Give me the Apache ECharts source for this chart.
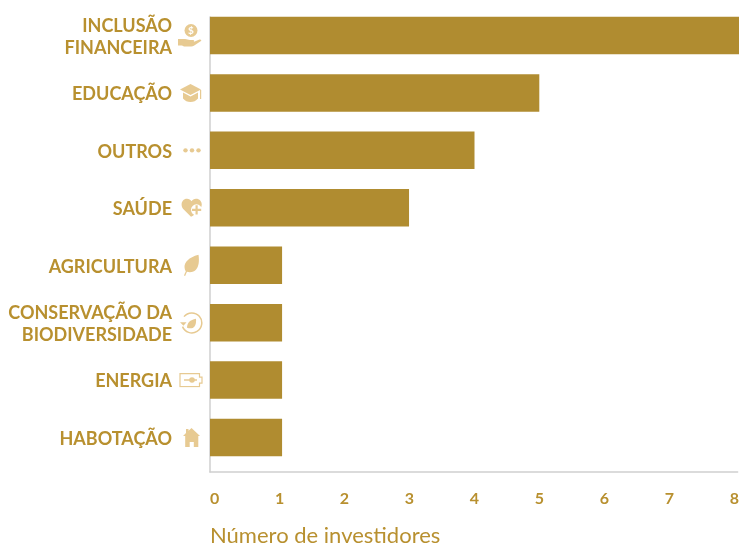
<!DOCTYPE html>
<html>
<head>
<meta charset="utf-8">
<style>html,body{margin:0;padding:0;background:#fff}#chart{width:742px;height:545px}</style>
<script src="https://cdn.jsdelivr.net/npm/echarts@6/dist/echarts.min.js"></script>
</head>
<body>
<div id="chart"></div>
<script>
// Investors per impact sector
const categories = ['INCLUSÃO\nFINANCEIRA', 'EDUCAÇÃO', 'OUTROS', 'SAÚDE', 'AGRICULTURA', 'CONSERVAÇÃO DA\nBIODIVERSIDADE', 'ENERGIA', 'HABOTAÇÃO'];
const investors = [8, 4.98, 4, 3.01, 1.09, 1.09, 1.09, 1.09];
const tickLabels = [0, 1, 2, 3, 4, 5, 6, 7, 8];
const axisTitle = 'Número de investidores';

const GOLD = '#b08c30';
const TEXT = '#b8902f';
const TAN = '#e7ca92';
const GREY = '#cfcfcf';

// Small sector pictograms, one per category
const svg = (w, h, body) => 'data:image/svg+xml;charset=utf-8,' + encodeURIComponent(
  `<svg xmlns="http://www.w3.org/2000/svg" width="${w}" height="${h}" viewBox="0 0 ${w} ${h}">${body}</svg>`);

const icons = [
  { w: 27, h: 29, src: svg(27, 29, `<circle cx="15" cy="9.500" r="6.500" fill="${TAN}"/><text x="15" y="13" font-size="10" font-weight="bold" font-family="Lato" text-anchor="middle" fill="#fff">$</text><path d="M2 18h7c2 0 3 1 5 1h3c1.500 0 1.500 1.500.5 2l6-2.500c1-.4 2.500.5 1.500 1.500l-6 4c-1.500 1-3 1.500-5 1.500H8l-2-1H2z" fill="${TAN}"/>`) },
  { w: 24, h: 22, src: svg(24, 22, `<path d="M11.500 2L22 7.500 11.500 13 1 7.500z" fill="${TAN}"/><path d="M4 10.500l7.500 4 7.500-4v6c-2 2.500-4.500 3.500-7.500 3.500S6 19 4 16.500z" fill="${TAN}"/><rect x="21" y="8" width="1.200" height="9" fill="${TAN}"/>`) },
  { w: 21, h: 8, src: svg(21, 8, `<circle cx="3.500" cy="4" r="2.200" fill="${TAN}"/><circle cx="10" cy="4" r="2.200" fill="${TAN}"/><circle cx="16.500" cy="4" r="2.200" fill="${TAN}"/>`) },
  { w: 22, h: 20, src: svg(22, 20, `<path d="M10 19L2 11C-1 7 1 1 6 1c2 0 3.500 1 4.500 2.500C11.500 2 13 1 15 1c5 0 7 5 5 9l-8 8z" fill="${TAN}"/><circle cx="15.500" cy="12" r="5.500" fill="#fff"/><path d="M14.500 7.500h2.200v3.500h3.500v2.200h-3.500v3.500h-2.200v-3.500H11V11h3.500z" fill="${TAN}"/>`) },
  { w: 20, h: 22, src: svg(20, 22, `<path d="M1 21.500c.5-1.800 1-3 1.800-4.300C-.5 12 2 4 15.500 .5c1.200 7.500-.2 14.500-4.500 16.500-2.500 1.200-5 1.200-7 .6-.7 1.300-1.200 2.600-1.700 3.900z" fill="${TAN}"/>`) },
  { w: 24, h: 24, src: svg(24, 24, `<path d="M5 6a10 10 0 1 1-1.500 10" fill="none" stroke="${TAN}" stroke-width="1.500"/><path d="M1 11.500l3.500 3.500 3-3.500z" fill="${TAN}"/><path d="M8 17c0-5 3-8 9-9 .5 5-1 9-4.500 9.500-1.500.2-3 0-4.500-.5z" fill="${TAN}"/>`) },
  { w: 24, h: 15, src: svg(24, 15, `<path d="M20.500 1H1v13h19.500v-3.500H23v-6h-2.500z" fill="#fff" stroke="${TAN}" stroke-width="1.200"/><path d="M5 7.500h6" stroke="${TAN}" stroke-width="1.400"/><circle cx="13" cy="7.500" r="2.800" fill="${TAN}"/><path d="M15 7.500h3" stroke="${TAN}" stroke-width="1.400"/>`) },
  { w: 20, h: 20, src: svg(20, 20, `<path d="M8.500 .5L17 8.500h-1.700V20h-4.500v-5.500H6.700V20H2.200V8.500H0l3-3V1.500h2.500v1.800z" fill="${TAN}"/>`) }
];

const iconRich = {};
icons.forEach((ic, i) => {
  iconRich['i' + i] = { width: ic.w, height: ic.h, backgroundColor: { image: ic.src } };
});

const chart = echarts.init(document.getElementById('chart'), null, { renderer: 'canvas' });
chart.setOption({
  animation: false,
  backgroundColor: '#fff',
  title: {
    text: axisTitle,
    left: 205,
    top: 520,
    textStyle: { fontFamily: 'Lato', fontSize: 22, fontWeight: 400, color: TEXT }
  },
  grid: [
    // bars and their pictograms
    { left: 210, right: 3, top: 6.8, bottom: 78.8, containLabel: false },
    // visible axis frame and the value labels
    { left: 210, right: 3, top: 17, bottom: 73, containLabel: false },
    // category names, set a little lower than the bar centres
    { left: 210, right: 3, top: 8.3, bottom: 77.3, containLabel: false }
  ],
  xAxis: [
    { gridIndex: 0, type: 'value', min: 0, max: 8, show: false },
    {
      gridIndex: 1, type: 'value', min: -0.07, max: 8.05,
      axisLine: { show: true, onZero: false, lineStyle: { color: GREY, width: 1.5 } },
      axisTick: { show: false },
      splitLine: { show: false },
      axisLabel: {
        show: true, margin: 19, color: TEXT, fontFamily: 'Lato', fontSize: 16, fontWeight: 700,
        customValues: tickLabels, hideOverlap: false
      }
    },
    { gridIndex: 2, type: 'value', min: 0, max: 8, show: false }
  ],
  yAxis: [
    {
      // pictogram column beside the category names
      gridIndex: 0, type: 'category', inverse: true, data: categories, position: 'left',
      axisLine: { show: false }, axisTick: { show: false },
      axisLabel: {
        interval: 0, margin: 7, align: 'right',
        formatter: (v, i) => `{i${i}|}`,
        rich: iconRich
      }
    },
    {
      gridIndex: 1, type: 'value', min: 0, max: 1,
      axisLine: { show: true, onZero: false, lineStyle: { color: GREY, width: 1.5 } },
      axisTick: { show: false }, axisLabel: { show: false }, splitLine: { show: false }
    },
    {
      gridIndex: 2, type: 'category', inverse: true, data: categories,
      axisLine: { show: false }, axisTick: { show: false },
      axisLabel: {
        interval: 0, margin: 38, align: 'right', color: TEXT, fontFamily: 'Lato',
        fontSize: 18, fontWeight: 700, lineHeight: 22
      }
    }
  ],
  series: [{
    type: 'bar',
    name: axisTitle,
    xAxisIndex: 0,
    yAxisIndex: 0,
    data: investors,
    barWidth: 37.5,
    itemStyle: { color: GOLD },
    silent: true
  }]
});
</script>
</body>
</html>
